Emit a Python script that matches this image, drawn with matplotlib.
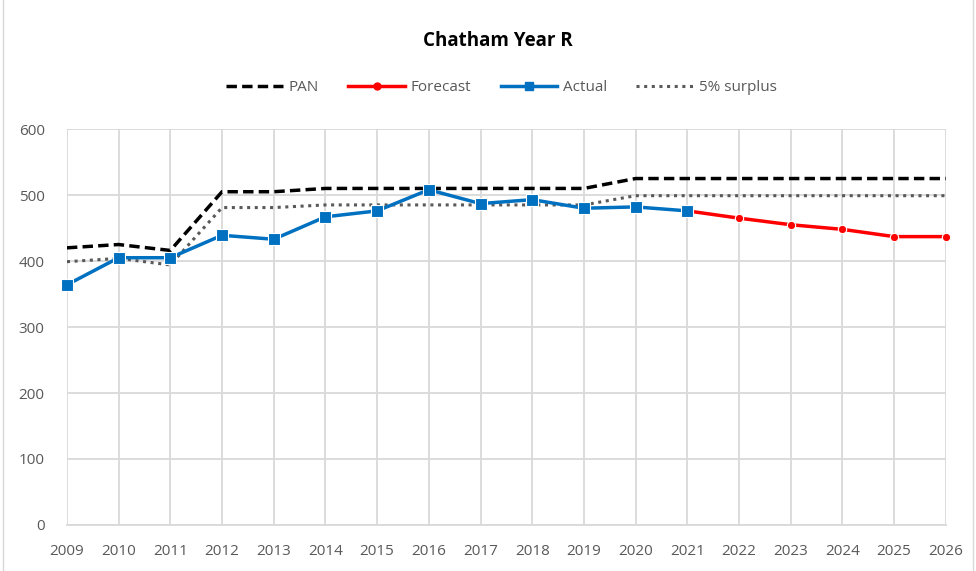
import matplotlib.pyplot as plt
from matplotlib.lines import Line2D

years = list(range(2009, 2027))
pan = [420, 425, 416, 505, 505, 510, 510, 510, 510, 510, 510, 525, 525, 525, 525, 525, 525, 525]
surplus = [399, 404, 394, 481, 481, 485, 485, 485, 485, 485, 485, 499, 499, 499, 499, 499, 499, 499]
actual_years = list(range(2009, 2022))
actual = [364, 405, 405, 439, 433, 467, 476, 508, 487, 493, 480, 482, 476]
forecast_years = list(range(2021, 2027))
forecast = [476, 465, 455, 448, 437, 437]

plt.rcParams['font.family'] = ['Open Sans', 'DejaVu Sans']

fig = plt.figure(figsize=(9.76, 5.71), dpi=100)
ax = fig.add_axes([0.0686, 0.0806, 0.9004, 0.6934])

ax.plot(years, pan, color='black', linestyle=(0, (3, 1.5)), linewidth=2.5, zorder=3)
ax.plot(years, surplus, color='#595959', linestyle=(0, (1, 1.5)), linewidth=2.2, zorder=3)
ax.plot(forecast_years, forecast, color='#ff0000', linewidth=2.5, marker='o',
        markersize=6, markeredgecolor='white', markeredgewidth=0.8, zorder=4, clip_on=False)
ax.plot(actual_years, actual, color='#0070c0', linewidth=2.5, marker='s',
        markersize=8, markeredgecolor='white', markeredgewidth=0.8, zorder=5, clip_on=False)

ax.set_xlim(2009, 2026)
ax.set_ylim(0, 600)
ax.set_xticks(years)
ax.set_yticks(range(0, 601, 100))
ax.grid(True, color='#d9d9d9', linewidth=1.3)
ax.set_axisbelow(True)
for s in ['top', 'right', 'left']:
    ax.spines[s].set_visible(False)
ax.spines['bottom'].set_color('#d9d9d9')
ax.spines['bottom'].set_linewidth(1.3)
ax.tick_params(length=0, labelsize=11, colors='#595959')
ax.tick_params(axis='x', pad=14)
ax.tick_params(axis='y', pad=16)

fig.text(0.51, 0.928, 'Chatham Year R', ha='center', va='center',
         fontsize=13.5, fontweight='bold', color='black')

handles = [
    Line2D([], [], color='black', linestyle=(0, (3, 1.5)), linewidth=2.5),
    Line2D([], [], color='#ff0000', linewidth=2.5, marker='o', markersize=5),
    Line2D([], [], color='#0070c0', linewidth=2.5, marker='s', markersize=6),
    Line2D([], [], color='#595959', linestyle=(0, (1, 1.5)), linewidth=2.2),
]
labels = ['PAN', 'Forecast', 'Actual', '5% surplus']
leg = fig.legend(handles, labels, loc='center', bbox_to_anchor=(0.514, 0.846), ncol=4,
                 frameon=False, fontsize=11, handlelength=3.7, columnspacing=1.9,
                 handletextpad=0.4)
for t in leg.get_texts():
    t.set_color('#595959')

fig.patches.append(plt.Rectangle((0.003, -0.01), 0.994, 1.02, transform=fig.transFigure,
                                 fill=False, edgecolor='#d9d9d9', linewidth=1))

fig.savefig('out.png', dpi=100)
